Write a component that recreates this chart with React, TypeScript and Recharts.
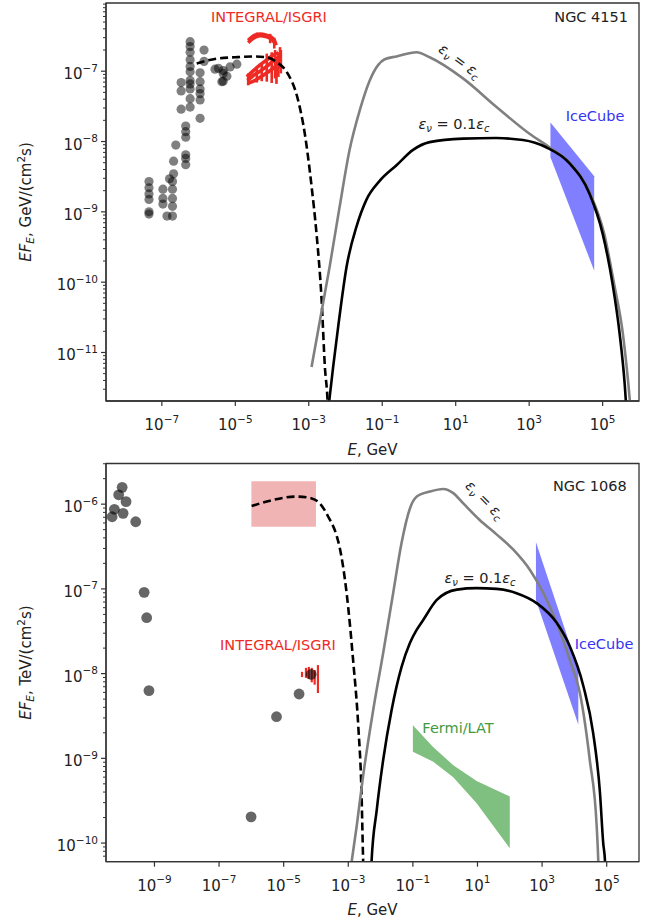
import React from 'react';
import { ComposedChart, Line, Area, Scatter, XAxis, YAxis, ReferenceArea } from 'recharts';

// ================= NGC 4151 (top panel) : E [GeV], EF_E [GeV/(cm^2 s)] =================
const ngc4151Points: number[][] = [
  [4.47e-8, 2.7e-9], [4.47e-8, 2.2e-9], [4.47e-8, 1.8e-9], [4.47e-8, 1.5e-9], [4.47e-8, 1.0e-9], [4.47e-8, 9.3e-10],
  [1.07e-7, 2.1e-9], [1.07e-7, 1.55e-9], [1.07e-7, 1.29e-9], [1.38e-7, 8.7e-10],
  [1.95e-7, 2.7e-9], [1.95e-7, 2.1e-9], [1.95e-7, 1.55e-9], [1.95e-7, 1.2e-9], [1.95e-7, 8.7e-10],
  [1.62e-7, 2.95e-9], [2.09e-7, 3.47e-9], [2.09e-7, 5.25e-9], [2.4e-7, 8.9e-9],
  [4.47e-7, 1.66e-8], [4.47e-7, 1.38e-8], [4.47e-7, 1.15e-8], [4.47e-7, 6.46e-9], [4.47e-7, 5.75e-9], [4.47e-7, 4.68e-9],
  [3.35e-7, 2.88e-8], [3.35e-7, 5.25e-8], [3.35e-7, 6.9e-8],
  [5.89e-7, 2.63e-7], [5.89e-7, 2.24e-7], [5.89e-7, 1.86e-7], [5.89e-7, 1.45e-7], [5.89e-7, 1.17e-7], [5.89e-7, 9.8e-8],
  [5.89e-7, 7.4e-8], [5.89e-7, 6.6e-8], [5.89e-7, 5.6e-8], [5.89e-7, 4.07e-8], [5.89e-7, 3.09e-8],
  [1.1e-6, 9.5e-8], [1.1e-6, 7.1e-8], [1.1e-6, 5.6e-8], [1.1e-6, 4.8e-8], [1.1e-6, 3.9e-8], [1.1e-6, 2.14e-8],
  [1.41e-6, 2.0e-7], [1.41e-6, 1.38e-7],
  [2.8e-6, 1.07e-7], [3.47e-6, 1.1e-7], [4.3e-6, 7.1e-8], [4.68e-6, 1.02e-7], [4.68e-6, 9.3e-8],
  [5.9e-6, 8.5e-8], [4.68e-6, 7.2e-8], [7.2e-6, 1.15e-7], [1.1e-5, 1.26e-7],
];

const ngc4151Dashed: number[][] = [
  [8.9e-7, 1.29e-7], [3.1e-6, 1.51e-7], [1e-5, 1.58e-7], [3.1e-5, 1.62e-7], [7.1e-5, 1.58e-7], [1.33e-4, 1.35e-7],
  [2.5e-4, 9.8e-8], [5.1e-4, 3.9e-8], [7.8e-4, 1.29e-8], [1.2e-3, 2.24e-9], [1.62e-3, 5.0e-10], [2.24e-3, 5.5e-11],
  [2.75e-3, 6.2e-12], [3.24e-3, 2.1e-12], [3.55e-3, 6.3e-13],
];

const ngc4151Gray: number[][] = [
  [1.19e-3, 6.2e-12], [3.7e-3, 1.66e-10], [6.9e-3, 1.17e-9], [1.29e-2, 7.6e-9], [2.45e-2, 2.8e-8], [4.57e-2, 7.4e-8],
  [7.8e-2, 1.23e-7], [0.117, 1.48e-7], [0.245, 1.62e-7], [0.85, 1.86e-7], [1.95, 1.58e-7], [15.8, 7.9e-8],
  [129, 3.1e-8], [1.02e3, 1.29e-8], [3.55e3, 8.3e-9], [1.26e4, 5.0e-9], [4.37e4, 1.9e-9], [1.1e5, 4.9e-10],
  [2.05e5, 9.5e-11], [3.55e5, 1.86e-11], [5.0e5, 3.6e-12], [6.0e5, 1.26e-12],
];

const ngc4151Black: number[][] = [
  [3.4e-3, 1.58e-12], [3.7e-3, 2.3e-12], [4.6e-3, 6.2e-12], [6.3e-3, 2.3e-11], [1.07e-2, 1.66e-10], [2.0e-2, 6.2e-10],
  [3.7e-2, 1.48e-9], [8.5e-2, 2.75e-9], [0.245, 4.6e-9], [0.69, 7.6e-9], [1.95, 9.8e-9],
  [15.8, 1.1e-8], [126, 1.12e-8], [676, 1.05e-8], [2.9e3, 8.3e-9], [1.26e4, 4.9e-9], [4.37e4, 1.82e-9],
  [1e5, 4.9e-10], [1.86e5, 9.5e-11], [2.9e5, 1.86e-11], [3.98e5, 3.6e-12], [4.57e5, 1.26e-12],
];

// [E, low, high]
const ngc4151IceCube: number[][] = [[3.8e3, 6.0e-9, 1.86e-8], [5.9e4, 1.45e-10, 3.2e-9]];

const integral4151Arcs: number[][][] = [
  [[2.24e-5, 2.75e-7], [3.09e-5, 3.16e-7], [4.68e-5, 3.39e-7], [7.08e-5, 3.24e-7], [9.77e-5, 3.02e-7], [1.2e-4, 2.63e-7], [1.29e-4, 2.34e-7]],
  [[2.24e-5, 2.55e-7], [3.09e-5, 2.95e-7], [4.68e-5, 3.2e-7], [7.08e-5, 3.1e-7], [9.77e-5, 2.85e-7], [1.2e-4, 2.5e-7]],
  [[2.06e-5, 8.3e-8], [3.11e-5, 1.02e-7], [4.73e-5, 1.23e-7], [7.19e-5, 1.45e-7], [1.09e-4, 1.7e-7], [1.49e-4, 1.82e-7]],
  [[2.14e-5, 7.4e-8], [3.11e-5, 8.7e-8], [4.73e-5, 1.0e-7], [7.19e-5, 1.17e-7], [1.09e-4, 1.41e-7], [1.58e-4, 1.62e-7]],
  [[2.29e-5, 6.8e-8], [3.47e-5, 7.4e-8], [5.25e-5, 8.5e-8], [7.94e-5, 9.8e-8], [1.2e-4, 1.15e-7], [1.66e-4, 1.35e-7]],
];

// [E, low, high]
const integral4151Bars: number[][] = [
  [7.2e-5, 7.1e-8, 1.78e-7], [9.8e-5, 6.8e-8, 1.86e-7], [1.21e-4, 7.9e-8, 2.0e-7], [1.49e-4, 8.3e-8, 1.86e-7],
  [1.74e-4, 9.3e-8, 2.0e-7], [2.24e-5, 6.3e-8, 9.3e-8], [3.85e-5, 6.9e-8, 1.1e-7], [5.25e-5, 7.2e-8, 1.26e-7],
  [8.9e-5, 2.5e-7, 3.4e-7], [1.15e-4, 2.1e-7, 3.0e-7], [3.9e-5, 2.95e-7, 3.55e-7], [1.32e-4, 6.6e-8, 1.5e-7],
  [1.65e-4, 1.1e-7, 2.2e-7],
];

// ================= NGC 1068 (bottom panel) : E [GeV], EF_E [TeV/(cm^2 s)] =================
const ngc1068Points: number[][] = [
  [1e-10, 1.58e-6], [7.8e-11, 1.29e-6], [1.32e-10, 1.07e-6], [5.75e-11, 8.7e-7], [1.07e-10, 7.8e-7], [4.9e-11, 7.1e-7],
  [2.63e-10, 6.2e-7], [4.8e-10, 9.1e-8], [5.75e-10, 4.57e-8], [6.76e-10, 6.3e-9],
  [9.8e-7, 2.04e-10], [6.0e-6, 3.1e-9], [3.0e-5, 5.75e-9], [7.1e-5, 9.8e-9],
];

const ngc1068Box = { eMin: 1e-6, eMax: 1e-4, fMin: 5.4e-7, fMax: 1.86e-6 };

const ngc1068Dashed: number[][] = [
  [1.02e-6, 9.5e-7], [3.8e-6, 1.1e-6], [2.5e-5, 1.23e-6], [7.4e-5, 1.17e-6], [1.32e-4, 1.02e-6], [2.4e-4, 7.1e-7],
  [4.4e-4, 4.2e-7], [5.5e-4, 3.0e-7], [8.9e-4, 8.9e-8], [1.41e-3, 1.45e-8], [2.04e-3, 2.4e-9], [2.57e-3, 3.9e-10],
  [2.88e-3, 6.3e-11], [3.16e-3, 1.58e-11],
];

const ngc1068Gray: number[][] = [
  [1.27e-3, 6.0e-11], [1.82e-3, 1.58e-10], [2.88e-3, 6.2e-10], [5.9e-3, 3.7e-9], [1.2e-2, 1.74e-8], [2.45e-2, 8.9e-8],
  [4.47e-2, 3.5e-7], [8.1e-2, 8.9e-7], [0.132, 1.23e-6], [0.34, 1.41e-6], [0.87, 1.51e-6], [1.78, 1.35e-6],
  [3.63, 1.02e-6], [11.7, 6.5e-7], [38.9, 4.4e-7], [129, 2.9e-7], [427, 1.66e-7], [1.1e3, 8.9e-8],
  [2.8e3, 4.0e-8], [7.2e3, 1.45e-8], [1.48e4, 5.9e-9], [3.0e4, 9.5e-10], [4.9e4, 1.58e-10], [5.5e4, 6.0e-11],
  [6.0e4, 1.58e-11],
];

const ngc1068Black: number[][] = [
  [4.8e-3, 1.58e-11], [5.25e-3, 6.0e-11], [7.6e-3, 2.45e-10], [1.2e-2, 9.5e-10], [2.19e-2, 3.7e-9], [4.47e-2, 1.2e-8],
  [8.1e-2, 2.3e-8], [0.132, 3.3e-8], [0.209, 4.3e-8], [0.55, 7.4e-8], [2.29, 9.8e-8], [9.5, 1.02e-7],
  [38.9, 1.0e-7], [162, 8.9e-8], [676, 6.8e-8], [2.8e3, 4.0e-8], [7.2e3, 2.1e-8], [1.9e4, 7.1e-9],
  [3.8e4, 2.0e-9], [6.2e4, 3.9e-10], [7.8e4, 1e-10], [8.9e4, 6.0e-11], [1e5, 1.58e-11],
];

const ngc1068IceCube: number[][] = [[646, 7.4e-8, 3.55e-7], [1.32e4, 2.5e-9, 1.12e-8]];

const ngc1068Fermi: number[][] = [
  [0.1, 1.2e-9, 2.45e-9], [0.43, 9.1e-10, 1.35e-9], [1.78, 6.0e-10, 8.3e-10], [9.4, 2.95e-10, 5.4e-10], [100, 8.7e-11, 3.55e-10],
];

const integral1068Bars: number[][] = [
  [3.7e-5, 9.1e-9, 1.05e-8], [4.9e-5, 8.9e-9, 1.17e-8], [6.0e-5, 8.7e-9, 1.2e-8], [7.4e-5, 7.9e-9, 1.17e-8],
  [9.1e-5, 7.4e-9, 1.1e-8], [1.15e-4, 5.9e-9, 1.26e-8],
];

// ================= axes (log10 exponents) =================
const topXTicks = [-7, -5, -3, -1, 1, 3, 5];
const topYMajor = [-11, -10, -9, -8, -7];
const botXTicks = [-9, -7, -5, -3, -1, 1, 3, 5];
const botYMajor = [-10, -9, -8, -7, -6];
const topXDomain: [number, number] = [-8.52, 5.99];
const topYDomain: [number, number] = [-11.69, -6.03];
const botXDomain: [number, number] = [-10.5, 6.0];
const botYDomain: [number, number] = [-10.22, -5.52];

// ---------------- helpers ----------------
const L = (v: number) => Math.log10(v);
const pts = (arr: number[][]) => arr.map(([e, f]) => ({ x: L(e), y: L(f) }));
const band = (arr: number[][]) => arr.map(([e, lo, hi]) => ({ x: L(e), y: [L(lo), L(hi)] }));
const seg = (b: number[]) => [{ x: L(b[0]), y: L(b[1]) }, { x: L(b[0]), y: L(b[2]) }];

const withMinor = (major: number[], dom: [number, number]) => {
  const out: number[] = [];
  for (let n = Math.floor(dom[0]) - 1; n <= Math.ceil(dom[1]); n++) {
    for (let k = 1; k <= 9; k++) {
      const v = n + Math.log10(k);
      if (v >= dom[0] && v <= dom[1]) out.push(k === 1 ? n : v);
    }
  }
  return out.filter((v) => !Number.isInteger(v) || major.includes(v));
};

const FONT = "'DejaVu Sans', sans-serif";
const AXIS = '#333';
const TXT = '#222';
const RED = '#ee2a24';
const fmtExp = (v: number) => (v < 0 ? '\u2212' + Math.abs(v) : String(v));

function XTick(props: any) {
  const { x, y, payload } = props;
  return (
    <g>
      <line x1={x} y1={y} x2={x} y2={y + 5} stroke={AXIS} strokeWidth={1.2} />
      <text x={x} y={y + 29} textAnchor="middle" fontSize={15} fill={TXT} fontFamily={FONT}>
        10<tspan dy={-7.5} fontSize={10.5}>{fmtExp(payload.value)}</tspan>
      </text>
    </g>
  );
}

function YTick(props: any) {
  const { x, y, payload } = props;
  const v = payload.value;
  if (!Number.isInteger(v)) {
    return <line x1={x - 3} y1={y} x2={x} y2={y} stroke={AXIS} strokeWidth={1} />;
  }
  return (
    <g>
      <line x1={x - 5} y1={y} x2={x} y2={y} stroke={AXIS} strokeWidth={1.2} />
      <text x={x - 8} y={y + 8} textAnchor="end" fontSize={15} fill={TXT} fontFamily={FONT}>
        10<tspan dy={-7.5} fontSize={10.5}>{fmtExp(v)}</tspan>
      </text>
    </g>
  );
}

const dot4151 = (p: any) => <circle cx={p.cx} cy={p.cy} r={4.6} fill="#000" fillOpacity={0.5} />;
const dot1068 = (p: any) => <circle cx={p.cx} cy={p.cy} r={5.4} fill="#000" fillOpacity={0.6} />;

function EpsLabel({ x, y, rotate = 0, coef = '' }: { x: number; y: number; rotate?: number; coef?: string }) {
  return (
    <text transform={`translate(${x},${y}) rotate(${rotate})`} y={5} textAnchor="middle" fontSize={14.5} fill={TXT} fontFamily={FONT}>
      <tspan fontStyle="italic">ε</tspan>
      <tspan fontStyle="italic" fontSize={10} dy={3}>ν</tspan>
      <tspan dy={-3}>{' = ' + coef}</tspan>
      <tspan fontStyle="italic">ε</tspan>
      <tspan fontStyle="italic" fontSize={10} dy={3}>c</tspan>
    </text>
  );
}

function YLabel({ y, unit }: { y: number; unit: string }) {
  return (
    <text transform={`translate(31,${y}) rotate(-90)`} textAnchor="middle" fontSize={15} fill={TXT} fontFamily={FONT}>
      <tspan fontStyle="italic">EF</tspan>
      <tspan fontStyle="italic" fontSize={10.5} dy={3}>E</tspan>
      <tspan dy={-3}>{`, ${unit}/(cm`}</tspan>
      <tspan fontSize={10.5} dy={-6}>2</tspan>
      <tspan dy={6}>s)</tspan>
    </text>
  );
}

function XLabel({ y }: { y: number }) {
  return (
    <text x={372.5} y={y} textAnchor="middle" fontSize={15} fill={TXT} fontFamily={FONT}>
      <tspan fontStyle="italic">E</tspan>
      <tspan>, GeV</tspan>
    </text>
  );
}

const lineCommon = { dot: false, activeDot: false, isAnimationActive: false } as const;

function TopPanel() {
  return (
    <ComposedChart width={660} height={461} margin={{ top: 3, right: 21, bottom: 30, left: 46 }}>
      <XAxis dataKey="x" type="number" domain={topXDomain} allowDataOverflow ticks={topXTicks} interval={0}
        tick={<XTick />} tickLine={false} tickSize={0} tickMargin={0} height={30}
        axisLine={{ stroke: AXIS, strokeWidth: 1.3 }} />
      <YAxis dataKey="y" type="number" domain={topYDomain} allowDataOverflow ticks={withMinor(topYMajor, topYDomain)} interval={0}
        tick={<YTick />} tickLine={false} tickSize={0} tickMargin={0} width={60}
        axisLine={{ stroke: AXIS, strokeWidth: 1.3 }} />
      <ReferenceArea x1={topXDomain[0]} x2={topXDomain[1]} y1={topYDomain[0]} y2={topYDomain[1]}
        fill="none" stroke={AXIS} strokeWidth={1.3} />
      <Scatter data={pts(ngc4151Points)} dataKey="y" shape={dot4151} isAnimationActive={false} />
      {integral4151Arcs.map((a, i) => (
        <Line key={'arc' + i} data={pts(a)} dataKey="y" type="monotone" stroke={RED} strokeWidth={3.6} {...lineCommon} />
      ))}
      {integral4151Bars.map((b, i) => (
        <Line key={'bar' + i} data={seg(b)} dataKey="y" type="linear" stroke={RED} strokeWidth={2.6} {...lineCommon} />
      ))}
      <Line data={pts(ngc4151Dashed)} dataKey="y" type="monotone" stroke="#000" strokeWidth={2.6} strokeDasharray="8 4" {...lineCommon} />
      <Line data={pts(ngc4151Gray)} dataKey="y" type="monotone" stroke="#808080" strokeWidth={2.6} {...lineCommon} />
      <Line data={pts(ngc4151Black)} dataKey="y" type="monotone" stroke="#000" strokeWidth={2.6} {...lineCommon} />
      <Area data={band(ngc4151IceCube)} dataKey="y" type="linear" fill="#0000ff" fillOpacity={0.5} stroke="none"
        dot={false} activeDot={false} isAnimationActive={false} />
      <YLabel y={202} unit="GeV" />
      <XLabel y={455} />
      <text x={269} y={22} textAnchor="middle" fontSize={14.5} fill={RED} fontFamily={FONT}>INTEGRAL/ISGRI</text>
      <text x={628} y={21.5} textAnchor="end" fontSize={14.5} fill={TXT} fontFamily={FONT}>NGC 4151</text>
      <text x={595} y={120.5} textAnchor="middle" fontSize={14.5} fill="#3434f2" fontFamily={FONT}>IceCube</text>
      <EpsLabel x={454} y={124} coef="0.1" />
      <EpsLabel x={460} y={61} rotate={36} />
    </ComposedChart>
  );
}

function BottomPanel() {
  return (
    <ComposedChart width={660} height={462} margin={{ top: 2.5, right: 21, bottom: 31.3, left: 46 }}>
      <XAxis dataKey="x" type="number" domain={botXDomain} allowDataOverflow ticks={botXTicks} interval={0}
        tick={<XTick />} tickLine={false} tickSize={0} tickMargin={0} height={30}
        axisLine={{ stroke: AXIS, strokeWidth: 1.3 }} />
      <YAxis dataKey="y" type="number" domain={botYDomain} allowDataOverflow ticks={withMinor(botYMajor, botYDomain)} interval={0}
        tick={<YTick />} tickLine={false} tickSize={0} tickMargin={0} width={60}
        axisLine={{ stroke: AXIS, strokeWidth: 1.3 }} />
      <ReferenceArea x1={botXDomain[0]} x2={botXDomain[1]} y1={botYDomain[0]} y2={botYDomain[1]}
        fill="none" stroke={AXIS} strokeWidth={1.3} />
      <ReferenceArea x1={L(ngc1068Box.eMin)} x2={L(ngc1068Box.eMax)} y1={L(ngc1068Box.fMin)} y2={L(ngc1068Box.fMax)}
        fill="#d62728" fillOpacity={0.35} stroke="none" />
      <Scatter data={pts(ngc1068Points)} dataKey="y" shape={dot1068} isAnimationActive={false} />
      {integral1068Bars.map((b, i) => (
        <Line key={'bbar' + i} data={seg(b)} dataKey="y" type="linear" stroke={RED} strokeWidth={2.2} {...lineCommon} />
      ))}
      <Line data={pts(ngc1068Dashed)} dataKey="y" type="monotone" stroke="#000" strokeWidth={2.6} strokeDasharray="8 4" {...lineCommon} />
      <Line data={pts(ngc1068Gray)} dataKey="y" type="monotone" stroke="#808080" strokeWidth={2.6} {...lineCommon} />
      <Line data={pts(ngc1068Black)} dataKey="y" type="monotone" stroke="#000" strokeWidth={2.6} {...lineCommon} />
      <Area data={band(ngc1068IceCube)} dataKey="y" type="linear" fill="#0000ff" fillOpacity={0.5} stroke="none"
        dot={false} activeDot={false} isAnimationActive={false} />
      <Area data={band(ngc1068Fermi)} dataKey="y" type="linear" fill="#008000" fillOpacity={0.5} stroke="none"
        dot={false} activeDot={false} isAnimationActive={false} />
      <YLabel y={201.6} unit="TeV" />
      <XLabel y={454} />
      <text x={626.7} y={30} textAnchor="end" fontSize={14.5} fill={TXT} fontFamily={FONT}>NGC 1068</text>
      <text x={278} y={189} textAnchor="middle" fontSize={14.5} fill={RED} fontFamily={FONT}>INTEGRAL/ISGRI</text>
      <text x={604} y={188} textAnchor="middle" fontSize={14.5} fill="#3434f2" fontFamily={FONT}>IceCube</text>
      <text x={458} y={272} textAnchor="middle" fontSize={14.5} fill="#3f9a3f" fontFamily={FONT}>Fermi/LAT</text>
      <EpsLabel x={480} y={117} coef="0.1" />
      <EpsLabel x={485} y={39} rotate={45} />
    </ComposedChart>
  );
}

export default function App() {
  return (
    <div style={{ position: 'absolute', left: 0, top: 0, width: 660, height: 923, background: '#fff', overflow: 'hidden' }}>
      <div style={{ position: 'absolute', left: 0, top: 0 }}>
        <TopPanel />
      </div>
      <div style={{ position: 'absolute', left: 0, top: 461 }}>
        <BottomPanel />
      </div>
    </div>
  );
}
